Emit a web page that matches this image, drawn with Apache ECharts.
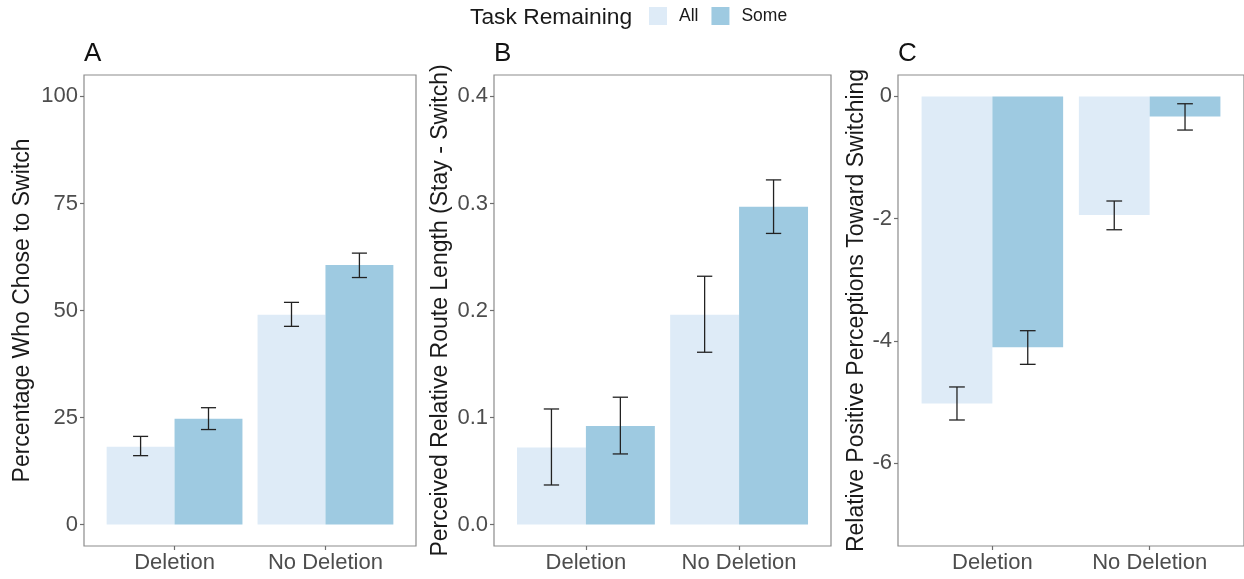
<!DOCTYPE html>
<html>
<head>
<meta charset="utf-8">
<script src="https://cdn.jsdelivr.net/npm/echarts@6/dist/echarts.min.js"></script>
<style>
html,body{margin:0;padding:0;background:#fff;}
#chart{width:1244px;height:579px;}
</style>
</head>
<body>
<div id="chart"></div>
<script>
// ---- Data ----
const categories = ['Deletion', 'No Deletion'];
const seriesNames = ['All', 'Some'];

// Panel A: Percentage Who Chose to Switch
const A_all = [18.2, 49.0];
const A_all_lo = [16.1, 46.3];
const A_all_hi = [20.6, 51.9];
const A_some = [24.7, 60.6];
const A_some_lo = [22.2, 57.7];
const A_some_hi = [27.3, 63.4];
const A_ticks = [0, 25, 50, 75, 100];

// Panel B: Perceived Relative Route Length (Stay - Switch)
const B_all = [0.072, 0.196];
const B_all_lo = [0.037, 0.161];
const B_all_hi = [0.108, 0.232];
const B_some = [0.092, 0.297];
const B_some_lo = [0.066, 0.272];
const B_some_hi = [0.119, 0.322];
const B_ticks = [0.0, 0.1, 0.2, 0.3, 0.4];

// Panel C: Relative Positive Perceptions Toward Switching
const C_all = [-5.02, -1.94];
const C_all_lo = [-5.29, -2.18];
const C_all_hi = [-4.75, -1.71];
const C_some = [-4.10, -0.33];
const C_some_lo = [-4.38, -0.55];
const C_some_hi = [-3.83, -0.12];
const C_ticks = [0, -2, -4, -6];

// ---- Styling ----
const FONT = "'Liberation Sans', Arial, Helvetica, sans-serif";
const COLORS = ['#deebf7', '#9ecae1'];
const BAR_W = 0.45;   // width of each dodged bar, in category units
const CAP_W = 0.1;    // error bar cap width, in category units

const panels = [
  { letter: 'A', name: 'Percentage Who Chose to Switch', min: -5, max: 105, ticks: A_ticks, fmt: v => String(v),
    all: A_all, allLo: A_all_lo, allHi: A_all_hi, some: A_some, someLo: A_some_lo, someHi: A_some_hi,
    grid: { left: 84, width: 332 }, nameGap: 50 },
  { letter: 'B', name: 'Perceived Relative Route Length (Stay - Switch)', min: -0.02, max: 0.42, ticks: B_ticks, fmt: v => v.toFixed(1),
    all: B_all, allLo: B_all_lo, allHi: B_all_hi, some: B_some, someLo: B_some_lo, someHi: B_some_hi,
    grid: { left: 494, width: 337 }, nameGap: 42 },
  { letter: 'C', name: 'Relative Positive Perceptions Toward Switching', min: -7.35, max: 0.35, ticks: C_ticks, fmt: v => String(v),
    all: C_all, allLo: C_all_lo, allHi: C_all_hi, some: C_some, someLo: C_some_lo, someHi: C_some_hi,
    grid: { left: 898, width: 350 }, nameGap: 30 }
];

function barRender(offset) {
  return function (params, api) {
    const x = api.value(0) + offset;
    const v = api.value(1);
    const p0 = api.coord([x, 0]);
    const p1 = api.coord([x + BAR_W, v]);
    return {
      type: 'rect',
      shape: { x: p0[0], y: Math.min(p0[1], p1[1]), width: p1[0] - p0[0], height: Math.abs(p1[1] - p0[1]) },
      style: { fill: api.visual('color') }
    };
  };
}

function errRender(offset) {
  return function (params, api) {
    const x = api.value(0) + offset;
    const lo = api.coord([x, api.value(1)]);
    const hi = api.coord([x, api.value(2)]);
    const cl = api.coord([x - CAP_W / 2, api.value(1)]);
    const cr = api.coord([x + CAP_W / 2, api.value(1)]);
    const hl = api.coord([x - CAP_W / 2, api.value(2)]);
    const hr = api.coord([x + CAP_W / 2, api.value(2)]);
    const st = { stroke: '#222222', lineWidth: 1.3 };
    return {
      type: 'group',
      children: [
        { type: 'line', shape: { x1: lo[0], y1: lo[1], x2: hi[0], y2: hi[1] }, style: st },
        { type: 'line', shape: { x1: cl[0], y1: cl[1], x2: cr[0], y2: cr[1] }, style: st },
        { type: 'line', shape: { x1: hl[0], y1: hl[1], x2: hr[0], y2: hr[1] }, style: st }
      ]
    };
  };
}

const grids = [], xAxes = [], yAxes = [], series = [], titles = [];

titles.push({
  text: 'Task Remaining', left: 470, top: 6, padding: 0,
  textStyle: { fontFamily: FONT, fontSize: 22.8, fontWeight: 'normal', color: '#1a1a1a' }
});

panels.forEach((p, i) => {
  grids.push({
    left: p.grid.left, width: p.grid.width, top: 75, bottom: 33,
    show: true, borderColor: '#8c8c8c', borderWidth: 1.2, backgroundColor: '#ffffff', containLabel: false
  });
  xAxes.push({
    type: 'value', gridIndex: i, min: 0.4, max: 2.6,
    splitLine: { show: false },
    axisLine: { show: false, onZero: false },
    axisTick: { show: true, length: 4, customValues: [1, 2], lineStyle: { color: '#6e6e6e', width: 1.2 } },
    axisLabel: { customValues: [1, 2], formatter: v => categories[Math.round(v) - 1] || '',
      fontFamily: FONT, fontSize: 22, color: '#4d4d4d', margin: 6 }
  });
  yAxes.push({
    type: 'value', gridIndex: i, min: p.min, max: p.max,
    name: p.name, nameLocation: 'middle', nameGap: p.nameGap,
    nameTextStyle: { fontFamily: FONT, fontSize: 23, color: '#1a1a1a' },
    splitLine: { show: false },
    axisLine: { show: false, onZero: false },
    axisTick: { show: true, length: 4, customValues: p.ticks, lineStyle: { color: '#6e6e6e', width: 1.2 } },
    axisLabel: { customValues: p.ticks, formatter: p.fmt, fontFamily: FONT, fontSize: 22, color: '#4d4d4d', margin: 6 }
  });
  titles.push({
    text: p.letter, left: p.grid.left, top: 41, padding: 0,
    textStyle: { fontFamily: FONT, fontSize: 26, fontWeight: 'normal', color: '#111111' }
  });

  const mk = arr => arr.map((v, k) => [k + 1, v]);
  const mkErr = (lo, hi) => lo.map((v, k) => [k + 1, v, hi[k]]);

  series.push({
    name: 'All', type: 'custom', xAxisIndex: i, yAxisIndex: i, renderItem: barRender(-BAR_W),
    itemStyle: { color: COLORS[0] }, data: mk(p.all), encode: { x: 0, y: 1 }, z: 2
  });
  series.push({
    name: 'Some', type: 'custom', xAxisIndex: i, yAxisIndex: i, renderItem: barRender(0),
    itemStyle: { color: COLORS[1] }, data: mk(p.some), encode: { x: 0, y: 1 }, z: 2
  });
  series.push({
    name: 'err-all-' + i, type: 'custom', xAxisIndex: i, yAxisIndex: i, renderItem: errRender(-BAR_W / 2),
    data: mkErr(p.allLo, p.allHi), encode: { x: 0, y: [1, 2] }, z: 3, silent: true
  });
  series.push({
    name: 'err-some-' + i, type: 'custom', xAxisIndex: i, yAxisIndex: i, renderItem: errRender(BAR_W / 2),
    data: mkErr(p.someLo, p.someHi), encode: { x: 0, y: [1, 2] }, z: 3, silent: true
  });
});

const chart = echarts.init(document.getElementById('chart'), null, { renderer: 'canvas' });
chart.setOption({
  backgroundColor: '#ffffff',
  animation: false,
  title: titles,
  legend: {
    data: seriesNames, left: 649, top: 7, padding: 0, icon: 'rect', itemWidth: 18, itemHeight: 18, itemGap: 13,
    textStyle: { fontFamily: FONT, fontSize: 17.5, color: '#1a1a1a', padding: [0, 0, 0, 7] }
  },
  grid: grids,
  xAxis: xAxes,
  yAxis: yAxes,
  series: series
});
</script>
</body>
</html>
